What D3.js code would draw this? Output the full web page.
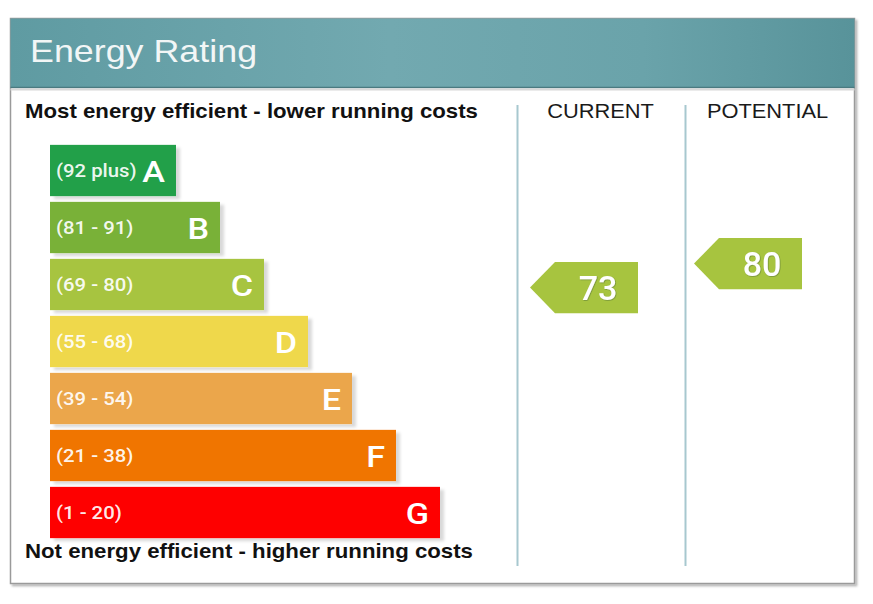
<!DOCTYPE html>
<html>
<head>
<meta charset="utf-8">
<script src="https://cdn.jsdelivr.net/npm/d3@7"></script>
<style>
  html, body { margin: 0; padding: 0; background: #fff; }
  svg { display: block; }
</style>
</head>
<body>
<svg id="chart" width="873" height="604"></svg>
<script>
// ---- data ----
const bandLetters = ["A", "B", "C", "D", "E", "F", "G"];
const bandRanges = ["(92 plus)", "(81 - 91)", "(69 - 80)", "(55 - 68)", "(39 - 54)", "(21 - 38)", "(1 - 20)"];
const bandColors = ["#24a04a", "#79b139", "#a7c43f", "#efd84b", "#eba64c", "#f07400", "#fe0000"];
const columns = ["CURRENT", "POTENTIAL"];
const ratings = [73, 80];
const ratingColors = ["#a7c43f", "#a7c43f"];
const title = "Energy Rating";
const topNote = "Most energy efficient - lower running costs";
const bottomNote = "Not energy efficient - higher running costs";

const svg = d3.select("#chart");
const defs = svg.append("defs");

// horizontally stretched text helper (the reference type is wide)
function wideText(parent, x, y, txt, sx) {
  return parent.append("text")
    .attr("transform", `translate(${x},${y}) scale(${sx},1)`)
    .text(txt);
}

// header gradient
const grad = defs.append("linearGradient").attr("id", "hdr").attr("x1", "0").attr("x2", "1");
grad.append("stop").attr("offset", "0").attr("stop-color", "#5f9ba2");
grad.append("stop").attr("offset", "0.45").attr("stop-color", "#72a9b0");
grad.append("stop").attr("offset", "0.75").attr("stop-color", "#6aa3aa");
grad.append("stop").attr("offset", "1").attr("stop-color", "#58939a");

const sh = defs.append("filter").attr("id", "barShadow").attr("x", "-5%").attr("y", "-10%").attr("width", "115%").attr("height", "130%");
sh.append("feDropShadow").attr("dx", 4).attr("dy", 3).attr("stdDeviation", 1.5).attr("flood-color", "#000").attr("flood-opacity", 0.15);

const fr = defs.append("filter").attr("id", "frameShadow").attr("x", "-2%").attr("y", "-2%").attr("width", "104%").attr("height", "104%");
fr.append("feDropShadow").attr("dx", 2).attr("dy", 2).attr("stdDeviation", 1).attr("flood-color", "#000").attr("flood-opacity", 0.3);

const ts = defs.append("filter").attr("id", "txtShadow").attr("x", "-10%").attr("y", "-10%").attr("width", "120%").attr("height", "120%");
ts.append("feDropShadow").attr("dx", 0.6).attr("dy", 0.6).attr("stdDeviation", 0.4).attr("flood-color", "#3c5a30").attr("flood-opacity", 0.6);

// frame
const frame = { x: 10.5, y: 18.5, w: 844, h: 565 };
svg.append("rect").attr("x", frame.x).attr("y", frame.y).attr("width", frame.w).attr("height", frame.h)
  .attr("fill", "#fff").attr("stroke", "#9a9a9a").attr("stroke-width", 1.5).attr("filter", "url(#frameShadow)");

// header
svg.append("rect").attr("x", frame.x).attr("y", frame.y).attr("width", frame.w).attr("height", 69)
  .attr("fill", "url(#hdr)");
svg.append("line").attr("x1", frame.x).attr("x2", frame.x + frame.w).attr("y1", 87.5).attr("y2", 87.5)
  .attr("stroke", "#4a7a80").attr("stroke-width", 1.5);
svg.append("line").attr("x1", frame.x).attr("x2", frame.x + frame.w).attr("y1", 89.5).attr("y2", 89.5)
  .attr("stroke", "#d8d8d8").attr("stroke-width", 2);
wideText(svg, 30, 62, title, 1.12)
  .attr("font-family", "'Liberation Sans', Arial, sans-serif").attr("font-size", 32)
  .attr("fill", "#f2f6f6");

// scales
const y = d3.scaleBand().domain(bandLetters).range([142, 541]).paddingInner(0.1).paddingOuter(0.05);
const xRight = d3.scaleLinear().domain([0, bandLetters.length - 1]).range([176, 440]);
const xLeft = 50;
const scoreY = d3.scaleLinear().domain([1, 100]).range([534.5, 195]);
const colX = d3.scalePoint().domain(columns).range([600.5, 767.5]);
const arrowX = d3.scalePoint().domain(columns).range([600, 764]);

// notes
wideText(svg, 25, 118, topNote, 1.14)
  .attr("font-family", "'Liberation Sans', Arial, sans-serif").attr("font-size", 19.5).attr("font-weight", "bold").attr("fill", "#111");
wideText(svg, 25, 558, bottomNote, 1.14)
  .attr("font-family", "'Liberation Sans', Arial, sans-serif").attr("font-size", 19.5).attr("font-weight", "bold").attr("fill", "#111");

// bars
const bars = svg.append("g").selectAll("g").data(bandLetters).join("g");
bars.append("rect")
  .attr("x", xLeft).attr("y", d => y(d))
  .attr("width", (d, i) => xRight(i) - xLeft).attr("height", y.bandwidth())
  .attr("fill", (d, i) => bandColors[i]).attr("filter", "url(#barShadow)");
bars.each(function (d, i) {
  const g = d3.select(this);
  wideText(g, xLeft + 6, y(d) + y.bandwidth() / 2 + 6.5, bandRanges[i], 1.13)
    .attr("font-family", "Roboto, sans-serif").attr("font-size", 18).attr("font-weight", 500)
    .attr("fill", "#fff").attr("fill-opacity", 0.93);
  wideText(g, xRight(i) - 11, y(d) + y.bandwidth() / 2 + 11, d, 1.14)
    .attr("text-anchor", "end")
    .attr("font-family", "Roboto, sans-serif").attr("font-size", 30).attr("font-weight", 500)
    .attr("fill", "#fff");
});

// column dividers
[517.5, 685.5].forEach(x => {
  svg.append("line").attr("x1", x).attr("x2", x).attr("y1", 105).attr("y2", 566)
    .attr("stroke", "#a7c8cf").attr("stroke-width", 2);
});

// column headers
columns.forEach(c => {
  wideText(svg, colX(c), 118, c, 1.12).attr("text-anchor", "middle")
    .attr("font-family", "'Liberation Sans', Arial, sans-serif").attr("font-size", 19.5).attr("fill", "#1a1a1a");
});

// rating arrows
const h = y.bandwidth();
const arrows = svg.append("g").selectAll("g").data(ratings).join("g");
arrows.append("path")
  .attr("d", (d, i) => {
    const cx = arrowX(columns[i]);
    const x0 = cx - 70, x1 = cx + 38, xm = x0 + 25;
    const cy = scoreY(d);
    return `M${x0},${cy} L${xm},${cy - h / 2} L${x1},${cy - h / 2} L${x1},${cy + h / 2} L${xm},${cy + h / 2} Z`;
  })
  .attr("fill", (d, i) => ratingColors[i]);
arrows.append("text")
  .attr("x", (d, i) => arrowX(columns[i]) - 2).attr("y", d => scoreY(d) + 12)
  .attr("text-anchor", "middle").text(d => d)
  .attr("font-family", "Roboto, sans-serif").attr("font-size", 34).attr("font-weight", 500)
  .attr("fill", "#fff").attr("filter", "url(#txtShadow)");
</script>
</body>
</html>
